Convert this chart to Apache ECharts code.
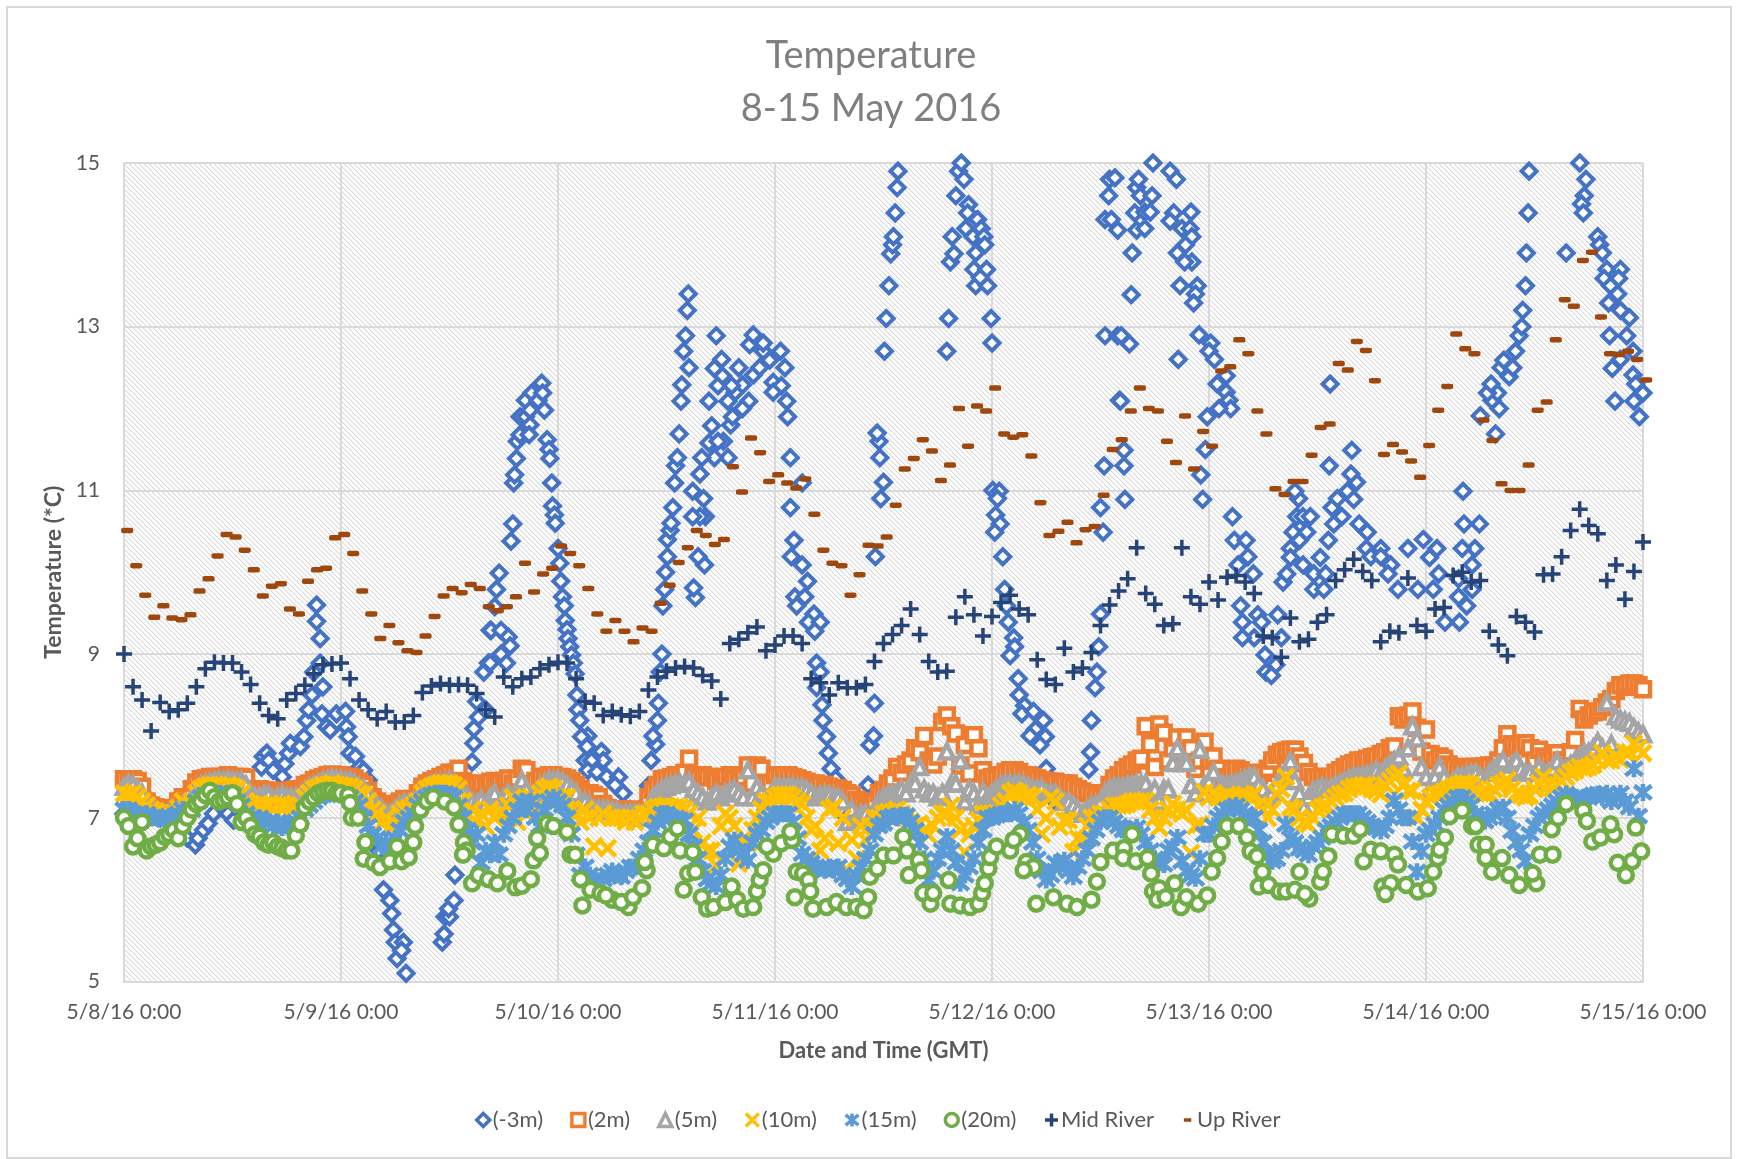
<!DOCTYPE html>
<html>
<head>
<meta charset="utf-8">
<title>Temperature</title>
<script src="https://cdn.jsdelivr.net/npm/echarts@6/dist/echarts.min.js"></script>
<style>
html, body { margin: 0; padding: 0; background: #fff; }
#chart-panel { width: 1737px; height: 1159px; }
</style>
</head>
<body>
<div id="chart-panel"></div>
<script>
var dateLabels = ['5/8/16 0:00', '5/9/16 0:00', '5/10/16 0:00', '5/11/16 0:00', '5/12/16 0:00', '5/13/16 0:00', '5/14/16 0:00', '5/15/16 0:00'];

// [hours since 5/8 0:00, temperature]
var minus3m = [
[0,7.05],[1,7.05],[2,7.0],[3,7.05],[4,7.0],[5,6.95],[6,6.85],[7,6.75],[7.9,6.67],[8.2,6.75],[8.8,6.85],[9.3,6.93],[9.9,7.05],[11.5,7.05],[12.1,6.97],[13,7.2],[14,7.4],[15.2,7.62],[15.4,7.75],[15.8,7.79],[16,7.7],[16.5,7.58],[17.5,7.5],[17.8,7.66],[18.2,7.79],[18.4,7.91],[19.5,7.87],[19.9,7.99],[20.2,8.19],[20.4,8.32],[20.8,8.5],[21,8.78],[21.7,8.89],[21.3,9.6],[21.3,9.4],[21.7,9.19],[22,8.6],[21.9,8.27],[22.4,8.11],[22.8,8.07],[23.5,8.27],[24.5,8.3],[24.6,8.11],[24.8,7.99],[25,7.79],[25.6,7.75],[26.1,7.62],[26.5,7.58],[27,7.46],[27.6,7.1],[28.2,6.6],
[28.7,6.12],[29.4,5.99],[29.6,5.83],[29.8,5.63],[30,5.48],[30.2,5.28],[30.9,5.48],[31.2,5.1],[30.7,5.38],[35.2,5.48],[35.4,5.58],[35.5,5.79],[36,5.79],[35.9,5.89],[36.5,5.99],[36.6,6.3],[37.5,7.0],[38.5,7.68],[38.7,7.91],[38.7,8.09],[39.2,8.23],[39,8.42],[40,8.32],[39.8,8.78],[40.3,8.89],[40.5,8.89],[40.5,9.29],[40.6,9.29],[41,9.58],[41.2,9.79],[41.5,9.99],[41.7,9.29],[42.5,9.21],[42.7,9.1],[41.7,9.0],[42.3,8.89],[42.8,10.38],[43,10.59],[43.1,11.09],[43.2,11.19],[43.4,11.39],[43.5,11.6],[43.8,11.68],[43.8,11.9],[44.4,11.9],[44.4,12.1],[44.9,11.98],[44.9,11.8],[44.8,11.68],[45.1,12.19],[45.8,12.1],[46.2,12.31],[46.3,12.19],[46.5,11.98],[46.8,11.62],[47,11.5],[47.1,11.39],[47.3,11.09],[47.4,10.81],[47.6,10.7],[47.7,10.6],[48,10.29],[48.2,10.11],[48.3,9.89],[48.5,9.7],[48.7,9.59],[48.8,9.41],[49,9.3],[49.1,9.19],[49.3,9.09],[49.5,8.99],[49.7,8.89],[49.9,8.76],[50.1,8.5],[50.2,8.32],[50.4,8.19],[51.3,8.0],[50.6,7.99],[51.2,7.87],[52.8,7.81],[53,7.7],[51,7.7],[51.7,7.7],[51.3,7.58],[52.3,7.56],[53.4,7.5],[54.7,7.5],[54.3,7.4],[55.2,7.3],[56,7.1],[57,7.1],
[58,7.39],[58.3,7.7],[58.8,7.9],[58.5,8.0],[59,8.19],[59.1,8.4],[59.3,8.78],[59.5,9.0],[59.6,9.59],[59.8,9.79],[59.9,10],[60.1,10.19],[60.1,10.4],[60.4,10.51],[60.5,10.6],[60.7,10.79],[60.9,11.09],[61,11.3],[61.2,11.4],[61.4,11.69],[61.6,12.09],[61.7,12.29],[62.5,12.5],[61.9,12.7],[62.1,12.89],[62.3,13.2],[62.4,13.4],[63.2,9.69],[63,9.81],[64.3,10.68],[63.7,10.68],[62.9,10.68],[64.1,10.9],[62.9,10.99],[64.2,10.09],[63.5,10.19],[66.8,11.4],[65.3,11.4],[63.9,11.4],[63.7,11.2],[65,11.79],[64.7,11.58],[66.3,11.6],[65.7,11.6],[67.1,11.8],[67.3,11.9],[69.1,12.09],[68.4,12],[64.7,12.09],[66.8,12.09],[65.7,12.28],[67.6,12.2],[68.4,12.29],[65.3,12.49],[66.2,12.4],[66.1,12.6],[65.5,12.89],[68,12.5],[67.2,12.28],[69.6,12.41],[70.3,12.5],[70.7,12.7],[69.2,12.78],[69.6,12.9],[70.7,12.8],[71.4,12.59],[72.6,12.7],[73.1,12.5],[71.8,12.32],[72.7,12.28],[73.3,12.09],[71.8,12.2],[73.4,11.9],[73.7,11.4],[75,11.09],[73.7,10.79],[74.1,10.39],[73.8,10.19],[75,10.09],[75.6,9.89],[74.2,9.7],[75.3,9.7],[74.4,9.59],[76.3,9.49],[75.7,9.39],[77,9.39],[76.4,9.28],[76.6,8.89],[77,8.78],[76.6,8.59],[77.2,8.38],[77.3,8.19],[77.7,7.99],[77.9,7.79],[78.2,7.6],[78.7,7.48],[80,7.0],[81.5,7.0],
[82.3,7.4],[82.5,7.89],[82.9,8],[83,8.4],[83.1,10.19],[83.7,10.9],[84,11.1],[83.6,11.4],[83.5,11.6],[83.3,11.7],[84.1,12.7],[84.3,13.1],[84.6,13.5],[84.8,13.89],[85,14],[85.1,14.1],[85.3,14.39],[85.5,14.7],[85.6,14.9],[91,12.7],[91.2,13.1],[91.4,13.79],[91.8,13.89],[91.6,14.1],[92,14.6],[92.3,14.9],[92.6,15],[92.9,14.8],[93.4,14.49],[93.3,14.39],[93.1,14.2],[93.9,14.1],[94.4,14.31],[94.8,14.2],[95.1,14.1],[95.2,14],[94.2,13.9],[94,13.7],[95.4,13.7],[94.2,13.5],[95.5,13.5],[94.7,13.6],[95.9,13.1],[96,12.8],[96.1,11],[96.8,10.99],[96.6,10.9],[96.4,10.7],[96.9,10.59],[96.3,10.49],[97.2,10.19],[97.4,9.79],[97.6,9.59],[97.8,9.39],[98.4,9.2],[98.5,9.09],[98,8.98],[98.9,8.7],[99,8.5],[99.6,8.37],[99.3,8.27],[100.6,8.3],[101.7,8.19],[100.8,8.08],[101.9,7.99],[100.2,8],[101.3,7.89],[102,7.6],[103,7.2],[105,7.1],[106.7,7.59],[106.9,7.8],[107,8.19],[107.4,8.59],[107.6,8.78],[107.8,9.09],[108,9.49],[108.3,10.49],[108,10.79],[108.4,11.3],[108.5,12.89],[108.5,14.31],[108.9,14.6],[109,14.8],[109.2,14.31],[109.6,14.82],[109.9,14.18],[109.9,12.89],[110.1,12.1],
[110.2,12.09],[110.3,12.89],[110.6,11.49],[110.6,11.3],[110.7,10.89],[111.2,12.79],[111.4,13.39],[111.5,13.9],[111.8,14.39],[112,14.7],[112,14.18],[112.2,14.8],[112.4,14.6],[112.9,14.4],[112.9,14.2],[113.5,14.4],[113.7,14.6],[113.8,15],[115.7,14.9],[116.4,14.8],[116.1,14.39],[118,14.4],[115.7,14.29],[117,14.2],[117.9,14.2],[118.1,14.1],[117.4,14],[116.5,13.9],[118.1,13.79],[117.3,13.79],[116.8,13.5],[118.7,13.5],[118.5,13.4],[118.3,13.29],[118.9,12.9],[120.2,12.8],[120,12.7],[120.6,12.6],[116.6,12.6],[121.9,12.4],[120.9,12.3],[121.9,12.2],[122.2,12.1],[122.4,12],[121.1,12],[119.8,11.9],[119.6,11.5],[119.1,11.19],[119.3,10.89],[122.6,10.68],[122.8,10.39],[124.1,10.39],[124.3,10.19],[123.2,10.09],[124.9,9.98],[123.5,9.59],[123.7,9.39],[125.4,9.48],[125.8,9.39],[125,9.2],[123.7,9.2],[128,9.2],[127.6,9.48],[126.2,8.99],[127.4,8.87],[126.3,8.78],[126.9,8.74],[128.2,9.88],[128.6,9.98],[129,10.29],[129.3,10.49],[129.7,10.68],[129.9,10.9],[129.5,10.99],[130.4,10.68],[131.2,10.68],[130.8,10.49],[130,10.39],[129,10.18],[130.4,10.09],[131.6,9.98],[132.3,10.18],[132.9,9.98],[131.6,9.79],[132.7,9.79],[133.4,12.3],[135.8,11.49],[133.3,11.3],[133.2,10.39],[133.8,10.59],[133.6,10.79],[134.7,10.68],[134.2,10.9],[135.3,10.99],[136,10.89],[136.3,11.1],[135.7,11.2],[136.6,10.59],[137.5,10.49],[137.4,10.29],[139,10.29],[137.9,10.19],[139,10.19],[140.1,10.09],[139.8,9.98],[140.9,9.79],[142,10.29],[143.7,10.4],[145.2,10.29],[143.1,9.79],[144.8,9.79],[145.4,9.98],[144.4,10.18],[147.6,9.7],[148.5,9.59],[146.1,9.39],[147.7,9.39],[149.1,10.09],[149.4,10.29],[148,10.29],[148.2,10.59],[149.9,10.59],[148.1,10.99],[147.6,9.92],[149.1,9.79],
[151.7,11.69],[150,11.91],[151.3,12.1],[151.9,12.19],[150.8,12.19],[151.2,12.3],[152.1,12],[152.3,12.5],[152.6,12.59],[153.2,12.39],[153.6,12.5],[153.9,12.7],[154.3,12.89],[154.6,13],[154.7,13.2],[155,13.5],[155.1,13.9],[155.3,14.39],[155.4,14.9],[159.5,13.9],[161,15],[161.7,14.8],[161.5,14.6],[161.2,14.5],[161.4,14.39],[163,14.1],[163.2,14],[163.5,13.9],[164,13.7],[165.5,13.7],[163.7,13.59],[164.4,13.5],[165.3,13.59],[165.2,13.4],[164.2,13.29],[165.5,13.2],[166.5,13.11],[166.2,12.89],[164.3,12.89],[166.9,12.7],[164.6,12.49],[165.5,12.6],[166.9,12.41],[167.2,12.3],[168,12.19],[164.9,12.09],[167,12.09],[167.6,11.9]
];

// half hourly, one row per day
var plus2m = [
[7.47,7.45,7.47,7.45,7.38,7.2,7.15,7.13,7.12,7.1,7.1,7.1,7.2,7.25,7.2,7.35,7.43,7.47,7.48,7.5,7.5,7.5,7.5,7.52,7.5,7.5,7.5,7.49,7.35,7.33,7.35,7.33,7.33,7.3,7.33,7.32,7.3,7.33,7.35,7.33,7.4,7.42,7.46,7.48,7.5,7.52,7.53,7.52],
[7.52,7.5,7.5,7.48,7.44,7.4,7.33,7.25,7.2,7.17,7.14,7.12,7.13,7.2,7.23,7.22,7.23,7.3,7.38,7.42,7.45,7.47,7.5,7.52,7.55,7.55,7.6,7.45,7.42,7.38,7.4,7.42,7.4,7.44,7.45,7.42,7.45,7.48,7.42,7.48,7.6,7.58,7.4,7.45,7.5,7.5,7.52,7.52],
[7.5,7.5,7.48,7.45,7.4,7.35,7.3,7.3,7.28,7.25,7.17,7.12,7.1,7.1,7.1,7.09,7.1,7.09,7.08,7.05,7.25,7.34,7.4,7.47,7.48,7.5,7.52,7.52,7.55,7.72,7.52,7.5,7.52,7.5,7.5,7.45,7.44,7.5,7.52,7.48,7.44,7.5,7.64,7.42,7.64,7.6,7.42,7.42],
[7.52,7.52,7.52,7.52,7.5,7.48,7.46,7.44,7.42,7.42,7.4,7.4,7.38,7.36,7.36,7.34,7.3,7.28,7.22,7.17,7.12,7.07,7.2,7.3,7.34,7.42,7.48,7.62,7.55,7.65,7.7,7.85,7.8,8.0,7.7,7.65,7.75,8.17,8.25,8.12,8.03,7.64,7.89,7.54,8.01,7.85,7.58,7.48],
[7.5,7.48,7.52,7.56,7.58,7.58,7.56,7.52,7.52,7.5,7.48,7.46,7.45,7.44,7.44,7.42,7.42,7.42,7.38,7.35,7.32,7.3,7.3,7.28,7.26,7.3,7.4,7.48,7.52,7.58,7.62,7.65,7.7,7.72,8.12,7.9,7.62,8.14,8.04,7.7,7.85,7.98,7.8,7.98,7.85,7.6,7.7,7.93],
[7.7,7.75,7.6,7.45,7.5,7.58,7.6,7.58,7.55,7.54,7.52,7.52,7.55,7.6,7.7,7.77,7.8,7.82,7.83,7.83,7.75,7.67,7.56,7.5,7.5,7.5,7.45,7.5,7.55,7.58,7.62,7.65,7.67,7.7,7.7,7.72,7.74,7.75,7.78,7.8,7.85,7.87,8.24,8.2,8.25,8.3,8.1,7.81],
[8.08,7.78,7.7,7.75,7.72,7.65,7.62,7.6,7.6,7.62,7.62,7.62,7.62,7.63,7.64,7.64,7.7,7.85,8.02,7.9,7.88,7.9,7.91,7.85,7.7,7.83,7.75,7.7,7.72,7.79,7.7,7.7,7.8,7.95,8.33,8.2,8.25,8.29,8.3,8.35,8.41,8.45,8.55,8.62,8.6,8.64,8.64,8.62,8.57]
];
var plus5m = [
[7.38,7.42,7.4,7.35,7.3,7.15,7.1,7.08,7.05,7.05,7.05,7.05,7.1,7.15,7.15,7.25,7.35,7.4,7.42,7.43,7.45,7.46,7.45,7.46,7.45,7.45,7.45,7.4,7.28,7.25,7.25,7.28,7.28,7.22,7.25,7.28,7.25,7.25,7.25,7.27,7.33,7.38,7.4,7.42,7.45,7.46,7.48,7.47],
[7.46,7.45,7.45,7.42,7.38,7.35,7.28,7.2,7.15,7.1,7.05,7.05,7.1,7.15,7.18,7.18,7.18,7.25,7.33,7.38,7.4,7.42,7.42,7.44,7.45,7.42,7.35,7.3,7.25,7.2,7.17,7.22,7.17,7.25,7.3,7.15,7.25,7.3,7.25,7.28,7.46,7.35,7.2,7.3,7.38,7.42,7.46,7.46],
[7.46,7.44,7.4,7.35,7.3,7.2,7.2,7.15,7.1,7.1,7.1,7.1,7.08,7.08,7.05,7.05,7.05,7.05,7.05,7.0,7.1,7.25,7.3,7.35,7.38,7.4,7.42,7.42,7.42,7.44,7.35,7.3,7.25,7.2,7.25,7.3,7.25,7.3,7.32,7.35,7.3,7.25,7.58,7.25,7.38,7.3,7.2,7.28],
[7.38,7.38,7.38,7.38,7.38,7.36,7.36,7.34,7.3,7.25,7.28,7.28,7.28,7.25,7.25,7.2,6.95,7.1,7.0,7.05,7.05,7.0,7.1,7.2,7.25,7.28,7.3,7.3,7.35,7.3,7.42,7.42,7.62,7.35,7.3,7.3,7.25,7.3,7.81,7.42,7.42,7.7,7.2,7.35,7.3,7.15,7.32,7.25],
[7.3,7.35,7.4,7.42,7.42,7.42,7.42,7.4,7.38,7.35,7.35,7.36,7.3,7.3,7.3,7.25,7.2,7.2,7.15,7.1,7.05,7.1,7.15,7.15,7.2,7.3,7.35,7.38,7.38,7.38,7.4,7.4,7.42,7.42,7.42,7.3,7.35,7.2,7.35,7.35,7.67,7.85,7.67,7.67,7.4,7.3,7.83,7.4],
[7.45,7.56,7.3,7.4,7.4,7.42,7.42,7.45,7.48,7.5,7.5,7.4,7.35,7.25,7.31,7.4,7.5,7.55,7.69,7.45,7.3,7.13,7.25,7.33,7.35,7.38,7.36,7.36,7.4,7.42,7.45,7.48,7.5,7.5,7.52,7.52,7.55,7.58,7.55,7.6,7.65,7.7,7.75,7.6,7.85,8.12,7.97,7.62],
[7.5,7.35,7.5,7.62,7.5,7.4,7.45,7.5,7.5,7.52,7.54,7.54,7.5,7.4,7.55,7.6,7.65,7.7,7.55,7.65,7.7,7.6,7.55,7.55,7.45,7.62,7.55,7.55,7.6,7.69,7.6,7.6,7.65,7.7,7.75,7.8,7.8,7.85,7.93,7.85,8.41,7.9,8.24,8.2,8.18,8.16,8.1,8.05,8.02]
];
var plus10m = [
[7.3,7.28,7.3,7.25,7.2,7.15,7.1,7.08,7.05,7.05,7.05,7.05,7.12,7.2,7.15,7.2,7.3,7.35,7.38,7.4,7.4,7.4,7.38,7.4,7.38,7.35,7.3,7.2,7.17,7.15,7.17,7.15,7.15,7.1,7.15,7.17,7.15,7.1,7.12,7.15,7.25,7.3,7.35,7.37,7.4,7.4,7.42,7.4],
[7.4,7.38,7.38,7.35,7.3,7.28,7.2,7.1,7.05,6.93,7.0,6.88,6.93,7.05,7.1,7.12,7.15,7.2,7.3,7.35,7.38,7.4,7.42,7.42,7.42,7.4,7.35,7.2,7.03,7.1,6.95,7.05,6.9,7.1,7.0,7.05,7.05,7.15,7.25,6.95,7.2,7.05,7.25,7.1,7.3,7.35,7.38,7.35],
[7.25,7.25,7.25,7.1,7.05,6.95,7.1,7.0,6.65,7.0,7.05,6.63,7.0,7.0,7.0,6.95,7.0,6.95,7.0,7.05,7.05,7.1,7.13,7.13,7.15,7.13,7.13,7.13,7.1,7.05,6.85,7.0,6.7,6.6,6.6,6.42,6.9,7.05,7.0,6.9,6.44,6.7,6.69,6.85,7.0,7.1,7.2,7.2],
[7.25,7.28,7.28,7.28,7.25,7.2,7.17,7.0,6.85,6.9,6.6,6.75,7.1,7.13,6.69,7.0,6.36,6.73,6.5,6.9,6.73,6.9,7.0,7.0,7.05,7.07,7.07,7.1,7.05,7.0,6.95,6.9,6.93,6.85,6.79,6.9,7.0,7.05,7.05,7.15,7.0,6.85,6.58,6.8,6.9,6.97,7.05,7.05],
[7.05,7.05,7.15,7.2,7.3,7.33,7.3,7.25,7.28,7.25,7.1,6.8,7.0,7.25,7.2,6.89,6.97,6.97,6.58,6.75,6.73,6.9,7.0,7.0,7.05,7.05,7.1,7.15,7.15,7.15,7.17,7.2,7.2,7.2,7.21,7.1,7.0,6.88,7.0,7.1,7.17,7.1,7.05,7.09,6.57,6.9,6.92,7.31],
[7.25,7.3,7.25,7.25,7.28,7.25,7.25,7.25,7.28,7.25,7.29,7.15,7.1,7.0,7.1,7.3,7.35,7.5,7.13,7.1,7.0,6.95,6.92,7.0,7.1,7.13,7.15,7.2,7.25,7.29,7.3,7.35,7.38,7.38,7.4,7.4,7.35,7.33,7.29,7.4,7.45,7.5,7.54,7.4,7.33,7.33,7.0,7.1],
[7.2,7.25,7.29,7.29,7.32,7.35,7.38,7.4,7.42,7.42,7.4,7.35,7.3,7.29,7.3,7.35,7.4,7.42,7.46,7.35,7.3,7.28,7.25,7.27,7.35,7.42,7.5,7.4,7.36,7.4,7.45,7.5,7.55,7.58,7.62,7.6,7.62,7.65,7.7,7.79,7.7,7.7,7.75,7.71,7.8,7.8,7.91,7.85,7.79]
];
var plus15m = [
[7.1,7.1,7.05,7.05,7.0,7.05,7.0,7.0,7.0,6.98,7.02,7.0,7.05,7.1,7.05,7.1,7.2,7.25,7.28,7.3,7.3,7.3,7.28,7.3,7.28,7.2,7.15,7.05,7.0,6.98,7.0,6.95,6.95,6.9,6.95,6.88,6.9,6.92,6.95,7.0,7.1,7.15,7.2,7.25,7.28,7.3,7.3,7.3],
[7.28,7.28,7.25,7.2,7.15,7.0,6.9,6.8,6.75,6.65,6.7,6.65,6.75,6.85,6.95,7.0,7.05,7.15,7.2,7.25,7.28,7.3,7.3,7.3,7.28,7.25,7.15,7.0,6.85,6.7,6.8,6.45,6.6,6.55,6.7,6.55,6.8,6.9,7.0,7.1,7.2,7.1,7.2,7.0,6.9,7.1,7.2,7.25],
[7.2,7.15,7.0,6.8,6.55,6.3,6.4,6.3,6.25,6.2,6.25,6.3,6.35,6.3,6.28,6.35,6.4,6.4,6.5,6.6,6.7,6.85,6.95,7.05,7.05,7.0,7.0,6.97,6.97,6.8,6.65,6.5,6.35,6.25,6.2,6.16,6.3,6.5,6.65,6.73,6.6,6.55,6.48,6.7,6.8,6.85,6.95,7.0],
[7.05,7.05,7.05,7.05,6.95,6.75,6.56,6.5,6.45,6.4,6.38,6.36,6.4,6.36,6.4,6.3,6.25,6.16,6.3,6.4,6.5,6.6,6.8,6.9,6.93,7.0,7.02,7.0,7.03,7.03,6.95,6.85,6.7,6.5,6.24,6.35,6.5,6.6,6.77,6.6,6.45,6.2,6.3,6.4,6.5,6.7,6.85,7.0],
[7.0,7.03,7.05,7.05,7.05,7.1,7.05,6.95,6.85,6.7,6.5,6.35,6.24,6.3,6.45,6.4,6.48,6.35,6.28,6.4,6.5,6.6,6.75,6.85,6.95,7.0,7.0,6.95,6.9,6.85,6.85,6.85,6.88,6.8,6.7,6.6,6.5,6.45,6.43,6.6,6.65,6.76,6.47,6.35,6.3,6.26,6.5,6.8],
[6.8,6.9,7.0,7.05,7.1,7.12,7.15,7.1,7.05,7.0,7.0,6.85,6.7,6.55,6.47,6.5,6.6,6.92,6.75,6.7,6.63,6.6,6.55,6.65,6.7,6.76,6.85,6.9,6.95,7.0,7.05,7.05,7.05,7.05,7.0,6.95,6.9,6.88,6.84,6.9,7.0,7.21,7.1,7.0,7.0,6.71,6.34,6.59],
[6.8,6.85,6.92,7.0,7.1,7.15,7.2,7.25,7.25,7.2,7.15,7.05,7.0,6.96,7.0,7.05,7.1,7.13,7.0,6.84,6.7,6.6,6.47,6.8,6.9,7.0,7.05,7.1,7.15,7.2,7.25,7.29,7.25,7.25,7.2,7.25,7.25,7.28,7.29,7.25,7.3,7.2,7.25,7.3,7.2,7.13,7.6,7.02,7.31]
];

var plus20m = [
[0,7.0],[0.5,6.9],[1,6.65],[1.5,6.75],[2,6.95],[2.5,6.6],[3,6.65],[3.5,6.67],[4,6.7],[4.5,6.77],[5,6.8],[5.5,6.85],[6,6.75],[6.5,6.9],[7,7.0],[7.5,7.1],[8,7.17],[8.5,7.2],[9,7.28],[9.5,7.33],[10,7.25],[10.5,7.2],[11,7.22],[11.5,7.25],[12,7.3],[12.5,7.17],[13,6.95],[13.5,7.0],[14,6.9],[14.5,6.8],[15,6.77],[15.5,6.7],[16,6.67],[16.5,6.7],[17,6.65],[17.5,6.63],[18,6.6],[18.5,6.6],[19,6.78],[19.5,6.92],[20,7.13],[20.5,7.2],[21,7.25],[21.5,7.3],[22,7.32],[22.5,7.33],[23,7.33],[23.5,7.3],
[24,7.3],[24.8,7.28],[25,7.18],[25.2,7.0],[25.9,7.0],[26.7,6.7],[26.5,6.5],[27.6,6.45],[28.3,6.4],[29.4,6.47],[30.2,6.65],[30.7,6.47],[31.5,6.52],[32,6.7],[32.2,6.9],[32.8,7.1],[33.5,7.2],[34.2,7.25],[35.5,7.2],[36.5,7.13],[37,6.92],[37.6,6.7],[37.9,6.6],[37.5,6.55],[38.5,6.2],[39.2,6.3],[40.3,6.25],[41.3,6.2],[42.4,6.35],[43.3,6.15],[44,6.17],[45,6.25],[45.3,6.48],[46,6.57],[45.7,6.75],[46.8,6.93],[47.5,6.9],[49,6.83],[49.4,6.55],[49.9,6.55],[50.5,6.25],[50.7,5.93],[51.6,6.12],[52.7,6.08],
[54,6.0],[53.3,6.05],[55.8,5.91],[55,5.97],[56.3,6.03],[57.3,6.14],[57.8,6.36],[57.6,6.46],[58.5,6.67],[59.7,6.63],[60.4,6.77],[61.2,6.87],[61.5,6.6],[62.9,6.58],[62.4,6.32],[63.2,6.34],[61.9,6.12],[63.9,6.03],[64.5,5.89],[65.2,5.91],[66.5,5.97],[67.2,6.16],[67.8,6.0],[68.5,5.89],[69.6,5.91],[70,6.1],[70.3,6.24],[70.7,6.36],[71.8,6.56],[71.1,6.65],[72.7,6.69],[73.9,6.73],[73.7,6.83],[74.4,6.34],[75.1,6.32],[75.7,6.24],[75.9,6.1],[74.2,6.03],[76.2,5.89],[77.7,5.91],[78.8,5.97],[79.9,5.91],[81,5.91],[81.8,5.87],[82.3,6.03],[82.5,6.28],[83.3,6.38],[84,6.54],[85.1,6.54],[86.2,6.77],[86.6,6.6],[87.9,6.48],[88.2,6.36],[86.8,6.3],[88.4,6.08],[89.2,5.95],[89.5,6.08],[91.2,6.24],[91.4,5.95],[92.5,5.93],[93.6,5.91],[94.5,5.95],[94.9,6.08],[95.2,6.2],[95.6,6.38],[95.8,6.52],[96.5,6.65],[98,6.6],[99.1,6.8],[98.4,6.73],[99.8,6.46],[100.6,6.4],[99.5,6.36],[100.9,5.95],[102.8,6.03],[104.3,5.95],[105.4,5.91],[107,6.0],[107.6,6.22],[108,6.46],[109.4,6.6],
[110.6,6.63],[110.5,6.51],[111.5,6.8],[111.9,6.47],[113.2,6.51],[113.6,6.32],[113.8,6.1],[114.5,6.14],[114.3,6.0],[115.2,6.03],[116.2,6.2],[116.9,5.91],[117.5,6.03],[118.8,5.95],[119.8,6.05],[120.3,6.34],[120.9,6.51],[121.4,6.71],[122,6.9],[123.3,6.9],[124.2,6.76],[124.6,6.59],[125.3,6.53],[125.9,6.34],[125.5,6.16],[126.6,6.18],[127.8,6.1],[128.5,6.1],[129.5,6.12],[130,6.34],[131.1,6.01],[130.6,6.07],[132.3,6.22],[132.6,6.34],[133.2,6.53],[133.6,6.8],[134.9,6.78],[136,6.78],[136.7,6.86],[137.1,6.47],[137.9,6.61],[139,6.59],[140.5,6.55],[140.9,6.43],[139.2,6.16],[140.1,6.2],[139.5,6.07],[141.8,6.18],[143.1,6.1],[144.2,6.14],[144.8,6.34],[145.3,6.51],[145.5,6.61],[146.1,6.76],[146.6,7.02],[148,7.09],[149.1,6.9],[149.5,6.9],[149.8,6.67],[150.6,6.67],[150.6,6.51],[151.3,6.34],[152.4,6.51],[153.2,6.3],[154.3,6.18],[156.2,6.2],[155.8,6.32],[156.6,6.55],[158,6.55],[157.9,6.86],[158.6,7.0],[159.5,7.17],[161.4,7.09],[161.8,6.96],[162.4,6.71],[163.3,6.76],[164.8,6.8],[164.4,6.92],[167.2,6.88],[165.2,6.45],[166.1,6.3],[166.8,6.47],[167.8,6.59]
];

// hourly from 5/8 0:00
var midRiver = [9.0,8.6,8.44,8.06,8.41,8.3,8.32,8.4,8.6,8.82,8.9,8.89,8.89,8.78,8.63,8.4,8.25,8.21,8.44,8.52,8.62,8.76,8.87,8.88,8.89,8.7,8.44,8.32,8.21,8.3,8.17,8.17,8.25,8.53,8.61,8.64,8.62,8.63,8.62,8.52,8.32,8.23,8.72,8.6,8.7,8.72,8.82,8.87,8.9,8.89,8.7,8.42,8.4,8.25,8.3,8.26,8.24,8.3,8.56,8.72,8.79,8.83,8.85,8.83,8.74,8.67,8.45,9.13,9.18,9.26,9.33,9.04,9.11,9.22,9.22,9.13,8.7,8.65,8.5,8.65,8.59,8.59,8.63,8.91,9.13,9.24,9.35,9.55,9.24,8.91,8.78,8.79,9.45,9.7,9.48,9.22,9.46,9.63,9.72,9.55,9.48,8.93,8.69,8.63,9.07,8.78,8.83,9.02,9.35,9.6,9.77,9.92,10.3,9.74,9.61,9.35,9.37,10.3,9.7,9.61,9.88,9.66,9.94,9.96,9.88,9.74,9.22,9.2,8.96,9.44,9.15,9.18,9.39,9.48,9.9,10.03,10.16,10.01,9.9,9.15,9.28,9.26,9.93,9.35,9.28,9.55,9.57,9.96,10.0,9.88,9.9,9.28,9.11,8.98,9.46,9.39,9.27,9.97,9.98,10.19,10.51,10.77,10.57,10.47,9.9,10.09,9.67,10.01,10.37];

// hourly, read at about 20 past the hour
var upRiver = [10.51,10.08,9.72,9.45,9.59,9.44,9.42,9.48,9.77,9.92,10.2,10.46,10.43,10.27,10.03,9.71,9.83,9.86,9.55,9.49,9.89,10.03,10.05,10.42,10.46,10.23,9.77,9.49,9.19,9.35,9.14,9.04,9.02,9.22,9.46,9.71,9.8,9.75,9.85,9.8,9.58,9.53,9.58,9.7,10.11,9.76,9.98,10.05,10.32,10.23,10.08,9.8,9.49,9.28,9.41,9.28,9.15,9.32,9.28,9.62,9.84,10.12,10.3,10.51,10.45,10.34,10.4,11.29,10.98,11.64,11.46,11.11,11.19,11.09,11.03,11.14,10.71,10.27,10.11,10.08,9.72,9.97,10.33,10.32,10.43,10.82,11.26,11.39,11.62,11.48,11.12,11.31,12.0,11.54,12.03,11.97,12.25,11.69,11.65,11.68,11.42,10.85,10.45,10.5,10.61,10.36,10.52,10.56,10.94,11.5,11.62,11.97,12.25,12.0,11.97,11.6,11.34,11.91,11.26,11.72,11.54,12.46,12.51,12.84,12.67,11.97,11.69,11.02,10.95,11.11,11.11,11.43,11.77,11.81,12.55,12.47,12.82,12.71,12.34,11.44,11.56,11.47,11.36,11.16,11.55,11.98,12.27,12.91,12.73,12.67,11.86,11.61,11.08,11.0,11.0,11.31,11.98,12.08,12.84,13.33,13.25,13.81,13.91,13.12,12.67,12.66,12.7,12.6,12.35];
var upRiverStart = 0.35;

var FONT = 'Lato';
var myChart = echarts.init(document.getElementById('chart-panel'));

// the hatched plot background
var tile = document.createElement('canvas');
tile.width = 5;
tile.height = 5;
var ctx = tile.getContext('2d');
ctx.fillStyle = '#fff';
ctx.fillRect(0, 0, 5, 5);
for (var p = 0; p < 5; p++) {
    ctx.fillStyle = '#d9d9d9';
    ctx.fillRect(p, p, 1, 1);
    ctx.fillStyle = '#eeeeee';
    ctx.fillRect((p + 1) % 5, p, 1, 1);
}

function halfHourly(rows) {
    var res = [];
    rows.forEach(function (row, day) {
        row.forEach(function (t, i) {
            res.push([day * 24 + i * 0.5, t]);
        });
    });
    return res;
}
function hourly(values, start) {
    return values.map(function (t, i) {
        return [start + i, t];
    });
}
function hollow(name, data, symbol, size, color, width) {
    return {
        name: name,
        type: 'scatter',
        data: data,
        clip: false,
        symbol: symbol,
        symbolSize: size,
        itemStyle: { color: '#fff', borderColor: color, borderWidth: width, opacity: 1 },
        emphasis: { disabled: true }
    };
}
function stroked(name, data, symbol, size, color, width) {
    return {
        name: name,
        type: 'scatter',
        data: data,
        clip: false,
        symbol: symbol,
        symbolSize: size,
        itemStyle: { color: 'rgba(0,0,0,0)', borderColor: color, borderWidth: width, opacity: 1 },
        emphasis: { disabled: true }
    };
}

var crossPath = 'path://M0 0L10 10M10 0L0 10';
var starPath = 'path://M0 1L10 9M10 1L0 9M5 0L5 10';
var plusPath = 'path://M5 0L5 10M0 5L10 5';

myChart.setOption({
    backgroundColor: '#fff',
    animation: false,
    title: {
        text: 'Temperature\n8-15 May 2016',
        left: 866,
        textAlign: 'center',
        top: 24,
        textStyle: { fontFamily: FONT, fontSize: 38, fontWeight: 'normal', color: '#7f7f7f', lineHeight: 53 }
    },
    graphic: [{
        type: 'rect',
        silent: true,
        z: -1,
        shape: { x: 7, y: 7, width: 1724, height: 1151 },
        style: { fill: 'none', stroke: '#d9d9d9', lineWidth: 2 }
    }],
    grid: {
        show: true,
        left: 124,
        right: 94,
        top: 163,
        bottom: 177.5,
        borderWidth: 0,
        backgroundColor: { image: tile, repeat: 'repeat' }
    },
    xAxis: {
        type: 'value',
        min: 0,
        max: 168,
        interval: 24,
        name: 'Date and Time (GMT)',
        nameLocation: 'middle',
        nameGap: 58,
        nameTextStyle: { fontFamily: FONT, fontSize: 22, fontWeight: 'bold', color: '#595959' },
        axisLine: { lineStyle: { color: '#d9d9d9', width: 2 } },
        axisTick: { show: false },
        axisLabel: {
            margin: 20,
            fontFamily: FONT,
            fontSize: 21,
            color: '#595959',
            formatter: function (v) { return dateLabels[v / 24]; }
        },
        splitLine: { show: true, lineStyle: { color: '#d9d9d9', width: 2 } }
    },
    yAxis: {
        type: 'value',
        min: 5,
        max: 15,
        interval: 2,
        name: 'Temperature (*C)',
        nameLocation: 'middle',
        nameGap: 55,
        nameTextStyle: { fontFamily: FONT, fontSize: 23, fontWeight: 'bold', color: '#595959' },
        axisLine: { show: true, lineStyle: { color: '#d9d9d9', width: 2 } },
        axisTick: { show: false },
        axisLabel: { margin: 24, fontFamily: FONT, fontSize: 21, color: '#595959' },
        splitLine: { show: true, lineStyle: { color: '#d9d9d9', width: 2 } }
    },
    legend: {
        left: 470,
        top: 1104,
        itemWidth: 13,
        itemHeight: 13,
        itemGap: 27,
        textStyle: { fontFamily: FONT, fontSize: 22, color: '#595959', padding: [0, 0, 0, -2] },
        data: [
            { name: '(-3m)', itemStyle: { borderWidth: 3.5 } },
            { name: '(2m)', itemStyle: { borderWidth: 3.5 } },
            { name: '(5m)', itemStyle: { borderWidth: 3.5 } },
            { name: '(10m)', itemStyle: { borderWidth: 3.5 } },
            { name: '(15m)', itemStyle: { borderWidth: 3.5 } },
            { name: '(20m)', itemStyle: { borderWidth: 3.5 } },
            { name: 'Mid River', itemStyle: { borderWidth: 3.5 } },
            { name: 'Up River', icon: 'path://M0 0ZM14 14ZM3 5L11 5L11 9L3 9Z' }
        ]
    },
    series: [
        hollow('(-3m)', minus3m, 'diamond', 15, '#4472c4', 4),
        hollow('(2m)', halfHourly(plus2m), 'rect', 14, '#ed7d31', 4.5),
        hollow('(5m)', halfHourly(plus5m), 'triangle', 14, '#a5a5a5', 4.5),
        stroked('(10m)', halfHourly(plus10m), crossPath, 16, '#ffc000', 4.5),
        stroked('(15m)', halfHourly(plus15m), starPath, 17, '#5b9bd5', 4.5),
        hollow('(20m)', plus20m, 'circle', 14, '#70ad47', 4.5),
        stroked('Mid River', hourly(midRiver, 0), plusPath, 16, '#264478', 3.5),
        {
            name: 'Up River',
            type: 'scatter',
            data: hourly(upRiver, upRiverStart),
            clip: false,
            symbol: 'roundRect',
            symbolSize: [12, 5.5],
            itemStyle: { color: '#9e480e', opacity: 1 },
            emphasis: { disabled: true }
        }
    ]
});
</script>
</body>
</html>
